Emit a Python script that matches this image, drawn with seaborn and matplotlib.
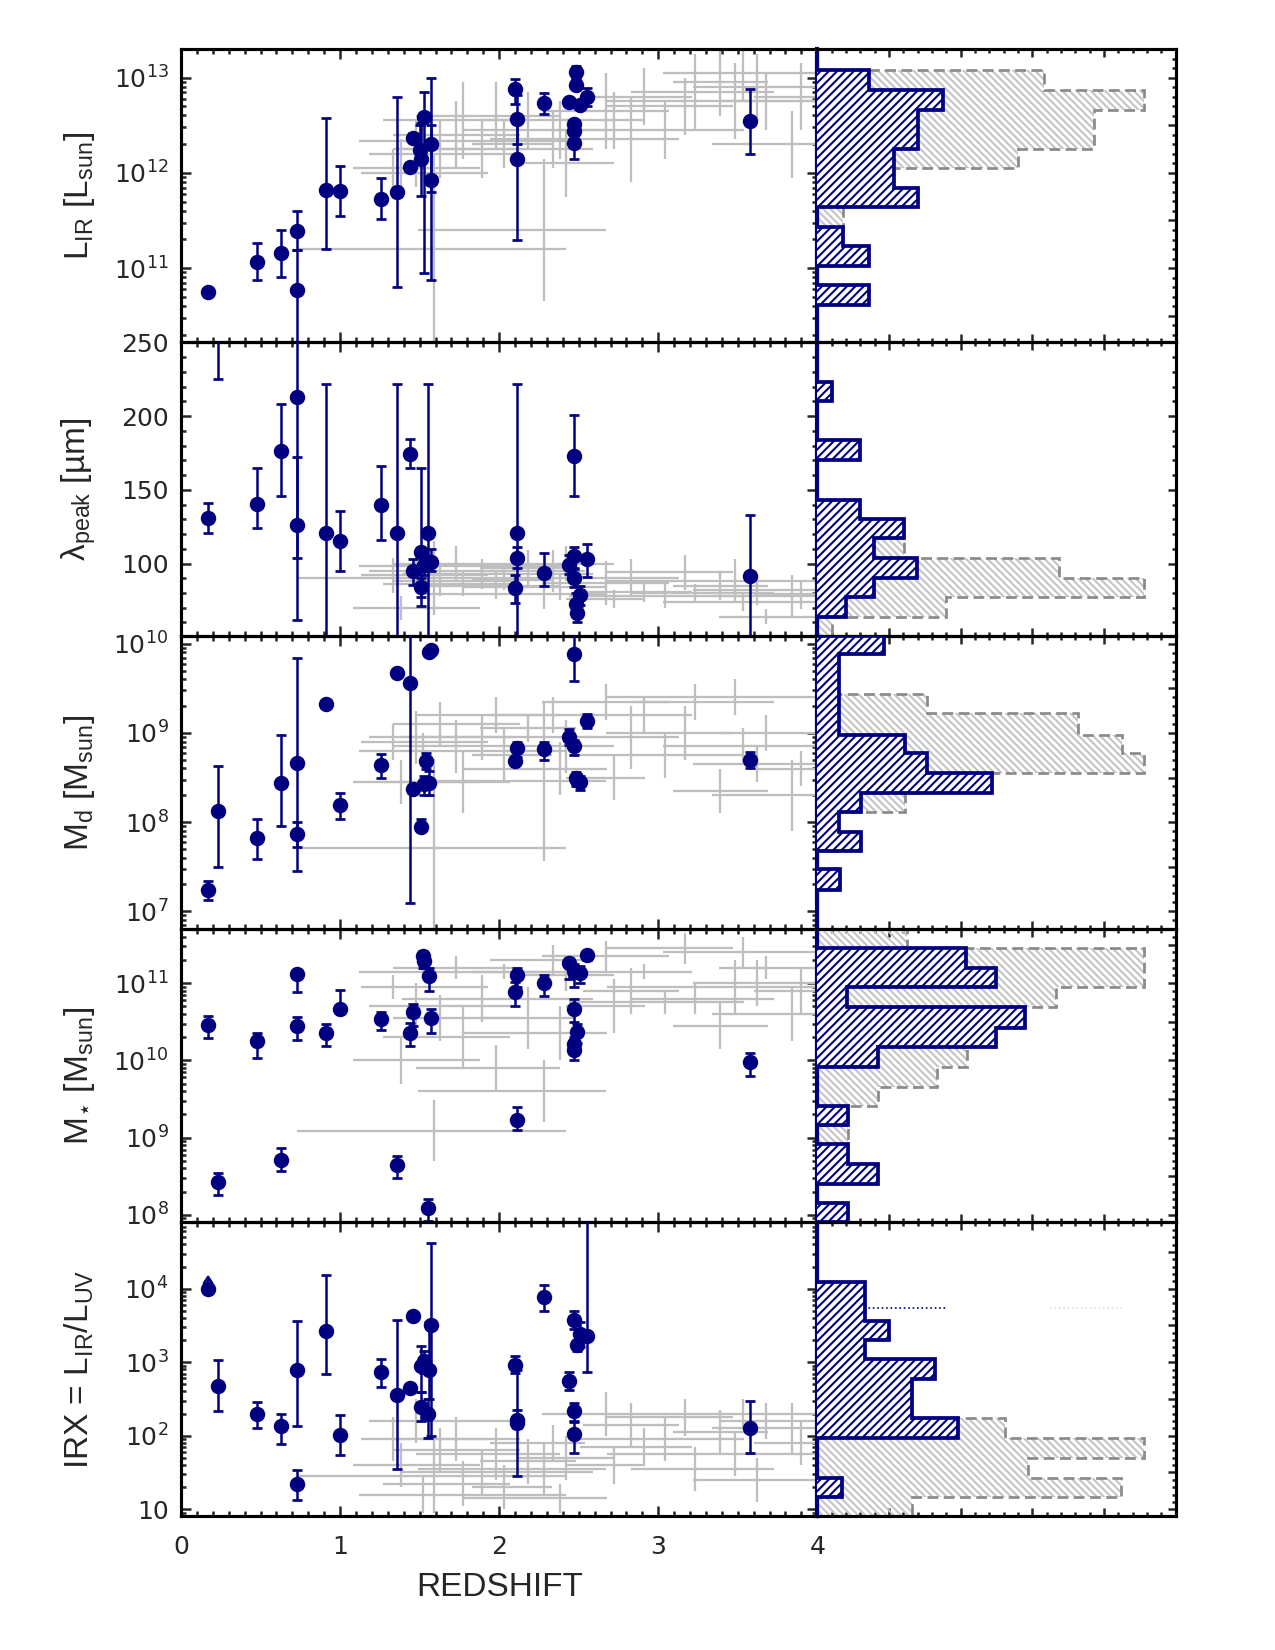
import numpy as np
import seaborn as sns
import matplotlib.pyplot as plt
from matplotlib.ticker import FuncFormatter, MultipleLocator, LogLocator, NullFormatter

sns.set_style('ticks')
plt.rcParams['font.family'] = ['DejaVu Sans']
plt.rcParams['hatch.linewidth'] = 1.0
plt.rcParams['mathtext.fontset'] = 'dejavusans'

navy = '#000080'
grey = '#bebebe'

###################  blue sample (log values unless lambda)
lir_z = [0.17, 0.48, 0.63, 0.73, 0.73, 0.91, 1.00, 1.26, 1.36, 1.44, 1.46, 1.50, 1.51, 1.53, 1.57, 1.57,
         2.10, 2.11, 2.11, 2.28, 2.44, 2.48, 2.48, 2.47, 2.47, 2.47, 2.51, 2.55, 3.58]
lir_val = [10.75, 11.06, 11.16, 11.39, 10.77, 11.82, 11.81, 11.73, 11.80, 12.06, 12.37, 12.24, 12.15, 12.59, 12.30, 11.92,
           12.88, 12.56, 12.15, 12.73, 12.74, 13.06, 12.92, 12.51, 12.44, 12.31, 12.71, 12.80, 12.54]
lir_lo = [10.75, 10.87, 10.91, 11.19, 9.90, 11.20, 11.55, 11.52, 10.80, 12.06, 12.33, 12.10, 11.76, 10.95, 11.80, 10.88,
          12.72, 12.30, 11.30, 12.62, 12.74, 12.98, 12.92, 12.51, 12.44, 12.15, 12.71, 12.70, 12.20]
lir_hi = [10.75, 11.26, 11.40, 11.60, 11.19, 12.58, 12.07, 11.95, 12.80, 12.06, 12.42, 12.50, 12.52, 12.85, 12.50, 13.00,
          12.99, 12.82, 12.60, 12.84, 12.74, 13.12, 12.98, 12.51, 12.44, 12.47, 12.71, 12.89, 12.88]

lam_z = [0.17, 0.23, 0.48, 0.63, 0.73, 0.73, 0.91, 1.00, 1.26, 1.36, 1.44, 1.46, 1.51, 1.51, 1.53, 1.55, 1.57,
         2.11, 2.11, 2.10, 2.28, 2.44, 2.47, 2.47, 2.47, 2.48, 2.49, 2.51, 2.55, 3.58]
lam_val = [131, 258, 140.5, 176, 213, 126, 120.6, 115.6, 139.4, 120.6, 174.4, 95.2, 107.5, 84, 99, 120.6, 101,
           120.6, 104, 83.3, 93.4, 99, 104.8, 90, 173, 72.6, 66.7, 78.7, 103.2, 91.6]
lam_lo = [121, 225, 124, 146, 62, 103.5, 20, 95, 116, 20, 164.5, 85.5, 71, 77, 92, 20, 95,
          20, 97, 73, 85, 93, 97, 84, 145.6, 65, 60, 72, 91, 20]
lam_hi = [141, 258, 165, 208, 300, 172, 221.8, 135.4, 166, 221.8, 184.4, 103.3, 165, 90, 106, 221.8, 110,
          221.8, 111, 92, 107, 106, 111, 96, 200.7, 80, 72, 85, 113, 132.6]

md_z = [0.17, 0.23, 0.48, 0.63, 0.73, 0.73, 0.91, 1.00, 1.26, 1.36, 1.44, 1.46, 1.51, 1.53, 1.54, 1.56, 1.56, 1.57,
        2.10, 2.11, 2.28, 2.44, 2.47, 2.47, 2.48, 2.49, 2.51, 2.55, 3.58]
md_val = [7.24, 8.12, 7.82, 8.44, 8.66, 7.87, 9.33, 8.19, 8.64, 9.67, 9.56, 8.37, 7.95, 8.43, 8.69, 8.44, 9.91, 9.93,
          8.68, 8.83, 8.82, 8.95, 8.85, 9.88, 8.49, 8.47, 8.45, 9.13, 8.70]
md_lo = [7.13, 7.50, 7.59, 7.96, 7.45, 7.72, 9.33, 8.03, 8.49, 9.67, 7.09, 8.37, 7.90, 8.30, 8.60, 8.30, 9.91, 9.93,
         8.68, 8.73, 8.70, 8.86, 8.75, 9.58, 8.40, 8.40, 8.36, 9.05, 8.61]
md_hi = [7.34, 8.63, 8.04, 8.98, 9.84, 8.00, 9.33, 8.33, 8.76, 9.67, 10.50, 8.37, 8.03, 8.52, 8.78, 8.57, 9.91, 9.93,
         8.68, 8.90, 8.90, 9.04, 8.92, 10.30, 8.56, 8.54, 8.52, 9.21, 8.79]

ms_z = [0.17, 0.23, 0.48, 0.63, 0.73, 0.73, 0.91, 1.00, 1.26, 1.36, 1.44, 1.46, 1.52, 1.53, 1.56, 1.57, 1.55,
        2.10, 2.11, 2.11, 2.28, 2.44, 2.47, 2.51, 2.55, 2.47, 2.49, 2.47, 2.47, 3.58]
ms_val = [10.46, 8.42, 10.25, 8.71, 11.12, 10.45, 10.36, 10.66, 10.53, 8.64, 10.35, 10.62, 11.35, 11.29, 11.09, 10.55, 8.09,
          10.89, 11.10, 9.23, 11.00, 11.26, 11.16, 11.13, 11.36, 10.67, 10.37, 10.21, 10.14, 9.98]
ms_lo = [10.29, 8.26, 10.03, 8.57, 10.89, 10.27, 10.19, 10.61, 10.39, 8.47, 10.18, 10.44, 11.20, 11.20, 10.90, 10.35, 7.92,
         10.71, 10.95, 9.10, 10.83, 11.05, 10.95, 11.00, 11.30, 10.50, 10.22, 10.10, 10.00, 9.80]
ms_hi = [10.57, 8.54, 10.36, 8.86, 11.12, 10.56, 10.47, 10.91, 10.63, 8.76, 10.48, 10.73, 11.42, 11.38, 11.20, 10.66, 8.21,
         11.01, 11.20, 9.39, 11.11, 11.32, 11.25, 11.22, 11.40, 10.80, 10.47, 10.30, 10.25, 10.10]

irx_z = [0.17, 0.23, 0.48, 0.63, 0.73, 0.73, 0.91, 1.00, 1.26, 1.36, 1.44, 1.46, 1.51, 1.53, 1.51, 1.55, 1.56, 1.57,
         2.10, 2.11, 2.11, 2.28, 2.44, 2.47, 2.49, 2.51, 2.47, 2.47, 2.55, 3.58]
irx_val = [3.99, 2.68, 2.30, 2.13, 2.89, 1.34, 3.42, 2.01, 2.87, 2.55, 2.65, 3.63, 2.95, 3.02, 2.39, 2.30, 2.89, 3.51,
           2.96, 2.22, 2.17, 3.88, 2.74, 3.58, 3.24, 3.38, 2.33, 2.03, 3.36, 2.11]
irx_lo = [3.99, 2.34, 2.10, 1.89, 2.13, 1.13, 2.84, 1.74, 2.66, 1.55, 2.65, 3.58, 2.60, 2.85, 2.20, 1.97, 2.50, 2.00,
          2.85, 2.10, 1.45, 3.70, 2.62, 3.45, 3.15, 3.20, 2.18, 1.77, 2.86, 1.76]
irx_hi = [3.99, 3.03, 2.46, 2.29, 3.56, 1.53, 4.18, 2.28, 3.05, 3.58, 2.65, 3.68, 3.22, 3.15, 2.60, 2.50, 3.55, 4.62,
          3.09, 2.35, 2.90, 4.05, 2.86, 3.70, 3.30, 3.55, 2.45, 2.20, 5.20, 2.47]

###################  grey comparison sample
g_z = [1.33, 1.38, 1.48, 1.52, 1.59, 1.63, 1.73, 1.77, 1.89, 1.98, 2.03, 2.18, 2.28, 2.34, 2.38,
       2.42, 2.67, 2.72, 2.83, 2.91, 3.04, 3.17, 3.23, 3.39, 3.84, 3.48, 3.53, 3.62, 3.68, 3.90]
g_zlo = [0.20, 0.30, 0.30, 0.40, 0.86, 0.30, 0.40, 0.50, 0.50, 0.50, 0.20, 0.30, 0.79, 0.40, 0.60,
         0.30, 0.40, 0.30, 0.30, 0.40, 0.60, 0.50, 0.40, 0.30, 0.50, 0.80, 0.50, 0.40, 0.30, 0.30]
g_zhi = [0.60, 0.50, 0.60, 0.90, 0.83, 0.50, 0.40, 0.30, 0.70, 0.40, 0.30, 0.30, 0.39, 0.20, 0.30,
         0.30, 0.40, 0.20, 0.30, 0.30, 0.50, 0.30, 0.50, 0.30, 0.40, 0.60, 0.50, 0.50, 0.40, 0.30]
g_lir = [12.0, 12.05, 12.2, 12.33, 11.2, 12.25, 12.4, 12.55, 12.25, 12.6, 12.3, 12.55, 11.4, 12.35, 12.45,
         12.1, 12.65, 12.55, 12.35, 12.8, 12.45, 12.7, 12.85, 12.95, 12.3, 12.75, 13.05, 12.9, 12.75, 12.8]
g_lir_e = [0.25, 0.3, 0.35, 0.3, 1.0, 0.3, 0.35, 0.4, 0.3, 0.35, 0.25, 0.3, 0.75, 0.3, 0.3,
           0.35, 0.4, 0.3, 0.45, 0.3, 0.3, 0.3, 0.4, 0.35, 0.35, 0.4, 0.3, 0.35, 0.3, 0.35]
g_lam = [92, 70, 95, 98, 90, 88, 100, 86, 93, 85, 89, 97, 79, 95, 84,
         100, 87, 76, 90, 81, 78, 94, 80, 85, 78, 88, 74, 82, 64, 79]
g_lam_e = [12, 8, 10, 12, 25, 10, 12, 8, 10, 9, 7, 12, 10, 14, 9,
           12, 15, 6, 13, 7, 8, 12, 6, 10, 14, 15, 6, 10, 5, 10]
g_md = [8.9, 8.45, 8.95, 8.8, 7.71, 9.1, 8.85, 8.45, 8.95, 9.2, 8.75, 9.05, 8.46, 9.2, 8.6,
        8.85, 9.35, 8.5, 8.95, 9.2, 8.75, 9.0, 9.35, 8.35, 8.3, 9.4, 8.85, 8.65, 9.0, 8.6]
g_md_e = [0.2, 0.25, 0.3, 0.2, 1.0, 0.25, 0.3, 0.35, 0.25, 0.2, 0.3, 0.15, 0.9, 0.2, 0.3,
          0.3, 0.2, 0.25, 0.35, 0.2, 0.25, 0.3, 0.2, 0.25, 0.4, 0.2, 0.2, 0.2, 0.2, 0.2]
g_ms = [10.95, 10.0, 10.7, 11.15, 9.09, 10.55, 11.2, 10.3, 10.8, 9.9, 11.15, 10.55, 9.6, 11.3, 10.35,
        11.1, 11.35, 10.7, 10.9, 11.15, 10.75, 11.45, 10.8, 10.45, 10.6, 10.95, 11.4, 11.0, 11.2, 10.9]
g_ms_e = [0.15, 0.3, 0.3, 0.1, 0.4, 0.3, 0.15, 0.4, 0.3, 0.3, 0.1, 0.4, 0.4, 0.2, 0.35,
          0.2, 0.2, 0.35, 0.3, 0.1, 0.15, 0.2, 0.2, 0.3, 0.35, 0.35, 0.2, 0.3, 0.15, 0.3]
g_irx = [1.95, 1.6, 2.2, 1.2, 1.45, 1.8, 1.95, 1.35, 1.5, 1.75, 1.3, 1.65, 1.55, 1.9, 1.15,
         1.7, 2.3, 1.6, 2.15, 1.85, 1.95, 2.25, 1.55, 2.05, 2.1, 1.75, 2.3, 1.4, 2.2, 1.9]
g_irx_e = [0.3, 0.3, 0.3, 0.25, 0.5, 0.3, 0.3, 0.3, 0.3, 0.35, 0.3, 0.3, 0.35, 0.25, 0.2,
           0.3, 0.3, 0.25, 0.3, 0.25, 0.3, 0.25, 0.3, 0.3, 0.35, 0.3, 0.2, 0.3, 0.25, 0.3]

###################  histograms (normalised bar lengths)
lir_edges = [10.61, 10.82, 11.02, 11.23, 11.43, 11.64, 11.84, 12.05, 12.25, 12.46, 12.66, 12.87, 13.08]
lir_hist_blue = [0.144, 0, 0.144, 0.071, 0, 0.282, 0.213, 0.213, 0.282, 0.282, 0.352, 0.144]
lir_hist_grey = [0, 0, 0, 0, 0.071, 0.07, 0.14, 0.56, 0.773, 0.773, 0.912, 0.634]

lam_edges = [51, 64, 77, 90, 103.5, 117, 130, 143, 156.5, 170, 183.5, 197, 210, 223]
lam_hist_blue = [0, 0.08, 0.157, 0.278, 0.157, 0.241, 0.12, 0, 0, 0.12, 0, 0, 0.042]
lam_hist_grey = [0.042, 0.358, 0.912, 0.676, 0.241, 0.04, 0, 0, 0, 0, 0, 0, 0]

md_edges = [7.24, 7.47, 7.68, 7.89, 8.11, 8.33, 8.55, 8.78, 8.98, 9.22, 9.44, 9.66, 9.88, 10.09]
md_hist_blue = [0.063, 0, 0.123, 0.06, 0.123, 0.489, 0.306, 0.245, 0.06, 0.06, 0.06, 0.06, 0.185]
md_hist_grey = [0, 0, 0.05, 0, 0.245, 0.3, 0.912, 0.85, 0.727, 0.306, 0, 0, 0]

ms_edges = [7.90, 8.15, 8.40, 8.66, 8.92, 9.16, 9.41, 9.66, 9.91, 10.17, 10.42, 10.69, 10.95, 11.20, 11.45, 11.70]
ms_hist_blue = [0.085, 0, 0.169, 0.085, 0, 0.085, 0, 0, 0.169, 0.498, 0.581, 0.083, 0.498, 0.415, 0]
ms_hist_grey = [0, 0, 0, 0, 0.085, 0, 0.169, 0.333, 0.417, 0.4, 0.4, 0.665, 0.912, 0.912, 0.25]

irx_edges = [0.90, 1.16, 1.43, 1.70, 1.97, 2.24, 2.50, 2.77, 3.04, 3.30, 3.56, 3.83, 4.09]
irx_hist_blue = [0, 0.069, 0, 0, 0.394, 0.264, 0.264, 0.329, 0.132, 0.199, 0.132, 0.132]
irx_hist_grey = [0.264, 0.847, 0.588, 0.912, 0.523, 0.13, 0, 0, 0, 0, 0, 0]
irx_dotted = 3.74
####################

panels = [
    dict(z=lir_z, v=lir_val, lo=lir_lo, hi=lir_hi, gv=g_lir, ge=g_lir_e, log=True, ylim=(10.22, 13.3),
         edges=lir_edges, hb=lir_hist_blue, hg=lir_hist_grey,
         label=r'L$_{\mathdefault{IR}}$ [L$_{\mathdefault{sun}}$]'),
    dict(z=lam_z, v=lam_val, lo=lam_lo, hi=lam_hi, gv=g_lam, ge=g_lam_e, log=False, ylim=(51, 250),
         edges=lam_edges, hb=lam_hist_blue, hg=lam_hist_grey,
         label='λ$_{\\mathdefault{peak}}$ [µm]'),
    dict(z=md_z, v=md_val, lo=md_lo, hi=md_hi, gv=g_md, ge=g_md_e, log=True, ylim=(6.8, 10.09),
         edges=md_edges, hb=md_hist_blue, hg=md_hist_grey,
         label=r'M$_{\mathdefault{d}}$ [M$_{\mathdefault{sun}}$]'),
    dict(z=ms_z, v=ms_val, lo=ms_lo, hi=ms_hi, gv=g_ms, ge=g_ms_e, log=True, ylim=(7.9, 11.7),
         edges=ms_edges, hb=ms_hist_blue, hg=ms_hist_grey,
         label=r'M$_{\star}$ [M$_{\mathdefault{sun}}$]'),
    dict(z=irx_z, v=irx_val, lo=irx_lo, hi=irx_hi, gv=g_irx, ge=g_irx_e, log=True, ylim=(0.91, 4.9),
         edges=irx_edges, hb=irx_hist_blue, hg=irx_hist_grey,
         label=r'IRX = L$_{\mathdefault{IR}}$/L$_{\mathdefault{UV}}$'),
]


def pow_fmt(y, pos):
    n = int(round(np.log10(y)))
    if n == 1:
        return '10'
    return r'$\mathdefault{10^{%d}}$' % n


fig = plt.figure(figsize=(8.5, 11), dpi=150)
x0, wm, wh = 0.142, 0.499, 0.281
top, rowh = 0.9703, 0.1778

for i, p in enumerate(panels):
    b = top - (i + 1) * rowh
    ax = fig.add_axes([x0, b, wm, rowh])
    hx = fig.add_axes([x0 + wm, b, wh, rowh])
    for a in (ax, hx):
        a.patch.set_alpha(0)
        for s in a.spines.values():
            s.set_linewidth(1.5)
            s.set_color('black')

    tr = (lambda v: 10 ** np.asarray(v, float)) if p['log'] else (lambda v: np.asarray(v, float))
    z = np.asarray(p['z'], float)
    v, lo, hi = tr(p['v']), tr(p['lo']), tr(p['hi'])
    gv = np.asarray(p['gv'], float)
    ge = np.asarray(p['ge'], float)

    # grey comparison sample
    gy = tr(gv)
    ax.errorbar(g_z, gy, xerr=[g_zlo, g_zhi], yerr=[gy - tr(gv - ge), tr(gv + ge) - gy],
                fmt='none', ecolor=grey, elinewidth=1.1, capsize=0, zorder=1)

    # blue sample
    m = (hi - lo) > 0
    ax.errorbar(z[m], v[m], yerr=[v[m] - lo[m], hi[m] - v[m]], fmt='none', ecolor=navy,
                elinewidth=1.2, capsize=2.2, capthick=1.3, zorder=3)
    sns.scatterplot(x=z, y=v, ax=ax, color=navy, s=55, edgecolor=navy, linewidth=0,
                    legend=False, zorder=4)

    ax.set_xlim(0, 4)
    if p['log']:
        ax.set_yscale('log')
        ax.set_ylim(10 ** p['ylim'][0], 10 ** p['ylim'][1])
        ax.yaxis.set_major_locator(LogLocator(base=10, numticks=20))
        ax.yaxis.set_minor_locator(LogLocator(base=10, subs=np.arange(2, 10), numticks=20))
        ax.yaxis.set_major_formatter(FuncFormatter(pow_fmt))
        ax.yaxis.set_minor_formatter(NullFormatter())
    else:
        ax.set_ylim(*p['ylim'])
        ax.yaxis.set_major_locator(MultipleLocator(50))
        ax.yaxis.set_minor_locator(MultipleLocator(10))
    ax.xaxis.set_major_locator(MultipleLocator(1))
    ax.xaxis.set_minor_locator(MultipleLocator(0.1))
    ax.tick_params(which='both', direction='in', top=True, right=True, width=1.2,
                   labelsize=12, pad=6)
    ax.tick_params(which='major', length=5)
    ax.tick_params(which='minor', length=2.5)
    ax.tick_params(axis='x', pad=9)
    ax.set_xlabel('')
    ax.set_ylabel('')
    if i < 4:
        ax.tick_params(axis='x', labelbottom=False)
    ax.spines['right'].set_color(navy)

    # histogram panel
    edges = np.asarray(p['edges'], float)
    hx.stairs(p['hg'], edges, orientation='horizontal', baseline=0, fill=True,
              facecolor='none', edgecolor='#c4c4c4', hatch='\\' * 7, linewidth=0, zorder=1)
    hx.stairs(p['hg'], edges, orientation='horizontal', baseline=0, fill=False,
              color='#8a8a8a', linestyle=(0, (4, 2)), linewidth=1.3, zorder=2)
    hx.stairs(p['hb'], edges, orientation='horizontal', baseline=0, fill=True,
              facecolor='white', edgecolor=navy, hatch='/' * 6, linewidth=1.8, zorder=3)
    hx.set_xlim(0, 1)
    hx.set_ylim(*p['ylim'])
    if p['log']:
        hx.yaxis.set_major_locator(MultipleLocator(0.5))
        hx.yaxis.set_minor_locator(MultipleLocator(0.1))
    else:
        hx.yaxis.set_major_locator(MultipleLocator(50))
        hx.yaxis.set_minor_locator(MultipleLocator(10))
    hx.xaxis.set_major_locator(MultipleLocator(0.2))
    hx.xaxis.set_minor_locator(MultipleLocator(0.04))
    hx.tick_params(which='both', direction='in', top=True, right=True, left=False,
                   labelleft=False, labelbottom=False, width=1.2)
    hx.tick_params(which='major', length=4)
    hx.tick_params(which='minor', length=2)
    hx.spines['left'].set_color(navy)
    hx.spines['left'].set_linewidth(2)
    if i == 4:
        hx.hlines(irx_dotted, 0.13, 0.36, colors=navy, linestyles=':', linewidth=0.8, zorder=4)
        hx.hlines(irx_dotted, 0.65, 0.85, colors='#dddddd', linestyles=':', linewidth=0.8, zorder=4)
        # lower-limit arrow on the first source
        ax.annotate('', xy=(irx_z[0], 10 ** (irx_val[0] + 0.2)),
                    xytext=(irx_z[0], 10 ** (irx_val[0] + 0.08)),
                    arrowprops=dict(arrowstyle='->,head_width=0.2,head_length=0.3',
                                    color=navy, lw=1.2, shrinkA=0, shrinkB=0))

    fig.text(0.062, b + rowh / 2, p['label'], rotation=90, ha='center', va='center',
             family='Liberation Sans', fontsize=16)

fig.text(0.392, 0.038, 'REDSHIFT', ha='center', va='center', family='Liberation Sans', fontsize=16)

plt.savefig('out.png', dpi=150)
plt.close()
